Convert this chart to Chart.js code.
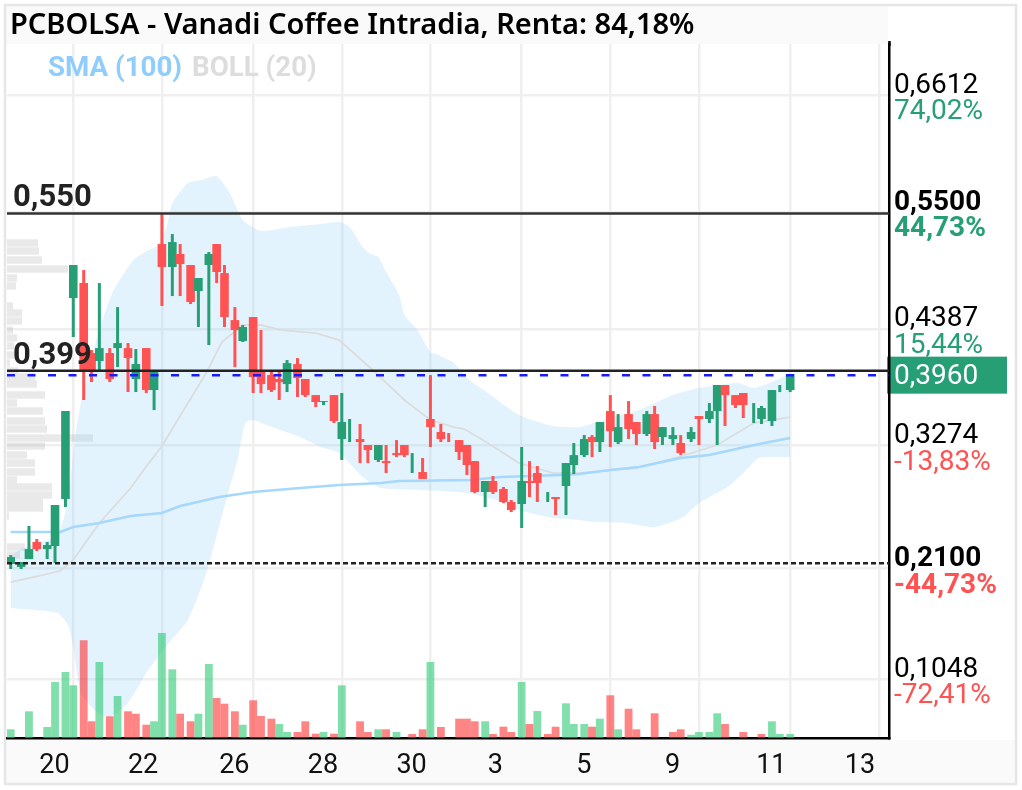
<!DOCTYPE html>
<html lang="es">
<head>
<meta charset="utf-8">
<title>PCBOLSA - Vanadi Coffee Intradia</title>
<script src="https://cdn.jsdelivr.net/npm/chart.js@4"></script>
<style>
    html, body { margin: 0; padding: 0; background: #fff; }
    canvas { display: block; }
</style>
</head>
<body>
<canvas id="chart" width="1022" height="790"></canvas>
<script>
// ===== DATA =====
const titleText = 'PCBOLSA - Vanadi Coffee Intradia, Renta: 84,18%';

const xTickSlots = [24, 58, 93, 127, 161, 196, 230, 264, 299, 333];
const xTickLabels = ['20', '22', '26', '28', '30', '3', '5', '9', '11', '13'];

const priceTicks = [0.6612, 0.55, 0.4387, 0.3274, 0.21, 0.1048];
const priceLabels = ['0,6612', '0,5500', '0,4387', '0,3274', '0,2100', '0,1048'];
const pctLabels = ['74,02%', '44,73%', '15,44%', '-13,83%', '-44,73%', '-72,41%'];
const boldPrices = ['0,5500', '0,2100'];

const lastPrice = 0.3945;
const lastPriceLabel = '0,3960';
const resistanceHigh = 0.5487;
const resistanceHighLabel = '0,550';
const resistanceLow = 0.3987;
const resistanceLowLabel = '0,399';
const supportLevel = 0.2151;

const candleSlots = [0, 4, 7, 10, 14, 17, 21, 24, 28, 31, 34, 38, 41, 45, 48, 52, 55, 58, 62, 65, 69, 72,
    76, 79, 82, 86, 89, 93, 96, 100, 103, 106, 110, 113, 117, 120, 124, 127, 130, 134, 137, 141, 144,
    148, 151, 154, 158, 161, 165, 168, 172, 175, 178, 182, 185, 189, 192, 196, 199, 202, 206, 209, 213,
    216, 220, 223, 226, 230, 233, 237, 240, 244, 247, 250, 254, 257, 261, 264, 268, 271, 274, 278, 281,
    285, 288, 292, 295, 299];
const candleOpen = [0.2145, 0.2116, 0.2192, 0.2354, 0.2287, 0.2316, 0.2764, 0.4680, 0.4823, 0.4156, 0.4080,
    0.4156, 0.4203, 0.4203, 0.3908, 0.4203, 0.3803, 0.5195, 0.4976, 0.5100, 0.4995, 0.4747, 0.4995, 0.5195,
    0.4918, 0.4470, 0.4270, 0.4499, 0.3994, 0.3946, 0.3908, 0.3860, 0.4051, 0.3908, 0.3755, 0.3689, 0.3755,
    0.3336, 0.3425, 0.3336, 0.3279, 0.3136, 0.3126, 0.3202, 0.3279, 0.3110, 0.3022, 0.3527, 0.3403, 0.3350,
    0.3326, 0.3279, 0.3126, 0.2831, 0.2936, 0.2860, 0.2736, 0.2717, 0.2936, 0.3012, 0.2782, 0.2783, 0.2888,
    0.3088, 0.3183, 0.3355, 0.3307, 0.3603, 0.3307, 0.3574, 0.3498, 0.3384, 0.3574, 0.3355, 0.3336, 0.3298,
    0.3336, 0.3555, 0.3527, 0.3603, 0.3851, 0.3755, 0.3775, 0.3582, 0.3527, 0.3508, 0.3818, 0.3803];
const candleClose = [0.2211, 0.2164, 0.2287, 0.2287, 0.2326, 0.2707, 0.3603, 0.4995, 0.3994, 0.3994, 0.4203,
    0.3908, 0.4251, 0.4108, 0.4051, 0.3803, 0.3975, 0.4976, 0.5214, 0.5004, 0.4642, 0.4871, 0.5100, 0.4928,
    0.4499, 0.4375, 0.4404, 0.3927, 0.3860, 0.3803, 0.3879, 0.4060, 0.3917, 0.3755, 0.3689, 0.3698, 0.3508,
    0.3498, 0.3425, 0.3307, 0.3231, 0.3279, 0.3107, 0.3183, 0.3183, 0.3110, 0.2955, 0.3450, 0.3336, 0.3349,
    0.3212, 0.3088, 0.2831, 0.2936, 0.2831, 0.2736, 0.2659, 0.2936, 0.2917, 0.2917, 0.2782, 0.2764, 0.3107,
    0.3183, 0.3336, 0.3307, 0.3498, 0.3412, 0.3450, 0.3431, 0.3384, 0.3574, 0.3307, 0.3450, 0.3374, 0.3202,
    0.3403, 0.3527, 0.3603, 0.3851, 0.3755, 0.3660, 0.3660, 0.3582, 0.3632, 0.3803, 0.3818, 0.3956];
const candleHigh = [0.2230, 0.2164, 0.2507, 0.2383, 0.2354, 0.2707, 0.3603, 0.4995, 0.4947, 0.4184, 0.4823,
    0.4203, 0.4594, 0.4251, 0.4194, 0.4203, 0.3975, 0.5491, 0.5290, 0.5195, 0.4995, 0.4871, 0.5119, 0.5195,
    0.4995, 0.4594, 0.4423, 0.4499, 0.4375, 0.3975, 0.3975, 0.4089, 0.4108, 0.3908, 0.3755, 0.3698, 0.3755,
    0.3775, 0.3527, 0.3479, 0.3279, 0.3279, 0.3279, 0.3326, 0.3279, 0.3202, 0.3155, 0.3946, 0.3479, 0.3393,
    0.3326, 0.3279, 0.3126, 0.2936, 0.2983, 0.2879, 0.2755, 0.3260, 0.3126, 0.3079, 0.2831, 0.2783, 0.3107,
    0.3298, 0.3374, 0.3374, 0.3498, 0.3755, 0.3574, 0.3698, 0.3498, 0.3603, 0.3651, 0.3450, 0.3450, 0.3374,
    0.3450, 0.3555, 0.3679, 0.3851, 0.3851, 0.3755, 0.3775, 0.3679, 0.3651, 0.3803, 0.3851, 0.3956];
const candleLow = [0.2097, 0.2097, 0.2192, 0.2268, 0.2192, 0.2154, 0.2688, 0.4309, 0.3708, 0.3879, 0.3994,
    0.3879, 0.4022, 0.3784, 0.3784, 0.3775, 0.3612, 0.4604, 0.4699, 0.4699, 0.4623, 0.4404, 0.4232, 0.4823,
    0.4404, 0.4022, 0.4261, 0.3775, 0.3775, 0.3784, 0.3708, 0.3784, 0.3737, 0.3737, 0.3641, 0.3660, 0.3489,
    0.3136, 0.3307, 0.3107, 0.3107, 0.3117, 0.3012, 0.3164, 0.3164, 0.3012, 0.2955, 0.3260, 0.3307, 0.3307,
    0.3136, 0.2993, 0.2821, 0.2688, 0.2812, 0.2726, 0.2640, 0.2488, 0.2783, 0.2736, 0.2736, 0.2612, 0.2612,
    0.3002, 0.3164, 0.3164, 0.3212, 0.3260, 0.3288, 0.3336, 0.3279, 0.3365, 0.3241, 0.3279, 0.3279, 0.3183,
    0.3307, 0.3279, 0.3489, 0.3279, 0.3460, 0.3632, 0.3536, 0.3489, 0.3479, 0.3460, 0.3784, 0.3784];

const volumeValues = [8.7, 0, 26.7, 0, 11, 56, 66, 52.7, 97.7, 16.7, 76, 21.7, 42, 26.7, 24.3, 13.3, 16.7, 105,
    68.7, 24.3, 16.7, 24.3, 74, 40, 34.3, 26.7, 13.3, 37.7, 22, 19.3, 14, 6, 6, 16.7, 4.3, 6, 4.3,
    52.7, 0, 16.7, 6, 8.7, 8.7, 6, 0, 4, 8.7, 76, 11, 0, 19.3, 19.3, 16.7, 16.7, 4, 11.3, 6, 56, 14, 27, 4,
    11.3, 34.7, 14, 14, 11.3, 19.3, 42.7, 8.7, 29.3, 8.7, 0, 24.7, 0, 6, 8.7, 3.3, 6, 6, 24.7, 14, 0, 6, 0,
    4, 16.7, 4, 4];
const volumeSide = ['u', 'u', 'u', 'u', 'u', 'u', 'u', 'u', 'd', 'd', 'u', 'd', 'u', 'd', 'd',
    'd', 'u', 'u', 'u', 'd', 'd', 'u', 'u', 'd', 'd', 'd', 'u', 'd', 'd', 'd', 'u', 'u', 'd', 'd', 'd', 'u', 'd',
    'u', 'u', 'd', 'd', 'u', 'd', 'u', 'u', 'd', 'd', 'u', 'd', 'd', 'd', 'd', 'd', 'u', 'd', 'd', 'd', 'u', 'd',
    'u', 'd', 'd', 'u', 'u', 'u', 'd', 'u', 'd', 'u', 'd', 'd', 'u', 'd', 'u', 'd', 'd', 'u', 'u', 'u', 'u', 'd',
    'u', 'd', 'u', 'd', 'u', 'u', 'u'];

const upperSlots = [0, 4, 7, 13, 18, 21, 23, 25, 27, 30, 34, 39, 47, 53, 57, 60, 62, 68, 73, 79, 84, 89, 96,
    107, 119, 126, 130, 135, 138, 141, 144, 149, 151, 156, 161, 164, 170, 176, 183, 195, 208, 218, 230, 241,
    254, 264, 279, 285, 292, 299];
const upperBand = [0.2221, 0.2287, 0.2316, 0.2364, 0.2421, 0.2640, 0.2964, 0.3403, 0.3689, 0.4022, 0.4375,
    0.4728, 0.5042, 0.5138, 0.5186, 0.5376, 0.5586, 0.5776, 0.5805, 0.5843, 0.5681, 0.5424, 0.5319, 0.5357,
    0.5386, 0.5405, 0.5357, 0.5166, 0.5100, 0.5071, 0.4928, 0.4709, 0.4518, 0.4375, 0.4165, 0.4137, 0.4060,
    0.3898, 0.3775, 0.3565, 0.3460, 0.3450, 0.3536, 0.3612, 0.3755, 0.3822, 0.3870, 0.3822, 0.3879, 0.3965];
const lowerSlots = [0, 9, 18, 22, 24, 27, 33, 38, 45, 52, 60, 68, 75, 83, 87, 90, 93, 98, 111, 119, 126, 135,
    142, 157, 175, 186, 195, 208, 218, 223, 236, 247, 258, 264, 275, 281, 287, 299];
const lowerBand = [0.1725, 0.1706, 0.1677, 0.1563, 0.1353, 0.0915, 0.0733, 0.0686, 0.0819, 0.1105, 0.1372,
    0.1611, 0.2059, 0.2783, 0.3136, 0.3489, 0.3517, 0.3470, 0.3355, 0.3260, 0.3202, 0.2974, 0.2869, 0.2850,
    0.2821, 0.2755, 0.2659, 0.2583, 0.2564, 0.2545, 0.2535, 0.2497, 0.2593, 0.2726, 0.2879, 0.3012, 0.3155, 0.3164];
const middleSlots = [0, 7, 19, 24, 34, 46, 51, 58, 68, 75, 81, 89, 96, 104, 117, 126, 138, 151, 161, 170, 174,
    183, 195, 208, 218, 240, 256, 271, 285, 299];
const middleBand = [0.1973, 0.2011, 0.2078, 0.2183, 0.2535, 0.2869, 0.3041, 0.3269, 0.3679, 0.3965, 0.4261,
    0.4423, 0.4423, 0.4375, 0.4346, 0.4280, 0.4013, 0.3708, 0.3517, 0.3450, 0.3431, 0.3298, 0.3107, 0.3012,
    0.3012, 0.3060, 0.3164, 0.3279, 0.3489, 0.3546];
const smaSlots = [0, 19, 24, 34, 46, 58, 65, 80, 93, 111, 126, 142, 149, 176, 188, 211, 218, 230, 241, 257,
    268, 280, 289, 299];
const smaValues = [0.2450, 0.2450, 0.2497, 0.2535, 0.2602, 0.2631, 0.2698, 0.2783, 0.2831, 0.2869, 0.2897,
    0.2917, 0.2936, 0.2945, 0.2974, 0.2993, 0.3002, 0.3041, 0.3069, 0.3155, 0.3183, 0.3250, 0.3298, 0.3346];

const profilePrices = [0.5204, 0.5128, 0.5042, 0.4957, 0.4871, 0.4795, 0.4604, 0.4537, 0.4461, 0.4375, 0.4299,
    0.4223, 0.4137, 0.4060, 0.3984, 0.3927, 0.3860, 0.3755, 0.3679, 0.3603, 0.3508, 0.3431, 0.3345, 0.3269,
    0.3183, 0.3107, 0.3022, 0.2945, 0.2879, 0.2803, 0.2736, 0.2678, 0.2602, 0.2306, 0.2230];
const profileVolumes = [31, 32, 35, 61, 10, 9, 6, 15, 15, 6, 10, 7, 8, 3, 11, 28, 30, 38, 10, 36, 38, 40, 86,
    38, 20, 28, 28, 10, 45, 45, 36, 36, 2, 18, 13];

// ===== STYLE =====
const GREEN = '#279f75';
const RED = '#ff5252';
const FONT = 'Roboto, sans-serif';
const xMin = -1.42;
const xMax = 336.9;

// ===== PLUGIN: testi e sfondi =====
const decorPlugin = {
    id: 'decor',
    beforeDraw(chart) {
        const c = chart.ctx;
        const y = chart.scales.y;
        c.save();
        c.fillStyle = '#fafafa';
        c.fillRect(6, 6, 882, 38);
        c.fillRect(6, 740, 1010, 44);
        c.strokeStyle = '#e6e6e6';
        c.lineWidth = 2.5;
        c.strokeRect(5, 5, 1011, 779);

        c.fillStyle = '#000';
        c.font = '600 29px "Noto Sans"';
        c.textBaseline = 'middle';
        c.fillText(titleText, 10, 26);

        // prolungamento asse sopra il grafico
        c.fillRect(888.2, 41, 2.5, 5);

        // etichetta ultimo prezzo
        const py = y.getPixelForValue(lastPrice);
        c.fillStyle = GREEN;
        c.fillRect(887, py - 18.5, 120, 37);
        c.fillStyle = '#fff';
        c.font = '28px ' + FONT;
        c.fillText(lastPriceLabel, 894, py + 2);
        c.restore();
    },
    afterDraw(chart) {
        const c = chart.ctx;
        const y = chart.scales.y;
        c.save();
        c.textBaseline = 'middle';

        // percentuali sotto i prezzi
        priceTicks.forEach((t, i) => {
            c.fillStyle = pctLabels[i].startsWith('-') ? RED : GREEN;
            c.font = (boldPrices.includes(priceLabels[i]) ? 'bold ' : '') + '28px ' + FONT;
            c.fillText(pctLabels[i], 894, y.getPixelForValue(t) + 17);
        });

        // legenda
        c.font = 'bold 27.7px ' + FONT;
        c.fillStyle = '#90cdfb';
        c.fillText('SMA (100)', 48, 69);
        c.fillStyle = '#dddddd';
        c.fillText('BOLL (20)', 192, 69);

        // livelli
        c.fillStyle = '#222';
        c.font = 'bold 31px ' + FONT;
        c.textBaseline = 'alphabetic';
        c.fillText(resistanceHighLabel, 13, y.getPixelForValue(resistanceHigh) - 7);
        c.fillText(resistanceLowLabel, 13, y.getPixelForValue(resistanceLow) - 7);
        c.restore();
    }
};

// ===== DATASETS =====
const toPoints = (slots, values) => slots.map((s, i) => ({ x: s, y: values[i] }));
const levelLine = (value, color, dash, order) => ({
    type: 'line',
    data: [{ x: xMin, y: value }, { x: xMax, y: value }],
    borderColor: color,
    borderWidth: 2.5,
    borderDash: dash,
    pointRadius: 0,
    order: order
});
const candleColors = candleOpen.map((o, i) => (candleClose[i] >= o ? GREEN : RED));

// profilo volumi: segmenti orizzontali separati da buchi
const profilePoints = profilePrices.flatMap((p, i) => [
    { x: 0, y: p }, { x: profileVolumes[i], y: p }, { x: NaN, y: NaN }
]);

new Chart(document.getElementById('chart'), {
    type: 'bar',
    data: {
        datasets: [
            {
                type: 'line',
                data: profilePoints,
                xAxisID: 'xProfile',
                borderColor: 'rgba(110, 110, 110, 0.15)',
                borderWidth: 7.5,
                borderCapStyle: 'butt',
                pointRadius: 0,
                spanGaps: false,
                order: 9
            },
            {
                type: 'line',
                data: toPoints(upperSlots, upperBand),
                borderWidth: 0,
                pointRadius: 0,
                tension: 0.2,
                fill: '+1',
                backgroundColor: 'rgba(143, 208, 250, 0.25)',
                order: 8
            },
            {
                type: 'line',
                data: toPoints(lowerSlots, lowerBand),
                borderWidth: 0,
                pointRadius: 0,
                tension: 0.2,
                order: 8
            },
            {
                type: 'line',
                data: toPoints(middleSlots, middleBand),
                borderColor: '#dcdcdc',
                borderWidth: 1.8,
                pointRadius: 0,
                order: 7
            },
            {
                type: 'line',
                data: toPoints(smaSlots, smaValues),
                borderColor: '#a6d8fb',
                borderWidth: 2.5,
                pointRadius: 0,
                order: 6
            },
            {
                data: candleSlots.map((s, i) => ({ x: s, y: volumeValues[i] })),
                yAxisID: 'yVolume',
                grouped: false,
                barThickness: 7.8,
                inflateAmount: 0,
                backgroundColor: volumeSide.map(s => (s === 'u' ? 'rgba(43, 201, 113, 0.6)' : 'rgba(255, 43, 43, 0.58)')),
                order: 5
            },
            {
                data: candleSlots.map((s, i) => ({ x: s, y: [candleLow[i], candleHigh[i]] })),
                grouped: false,
                barThickness: 3,
                inflateAmount: 0,
                backgroundColor: candleColors,
                order: 4
            },
            {
                data: candleSlots.map((s, i) => ({ x: s, y: [candleOpen[i], candleClose[i]] })),
                grouped: false,
                barThickness: 8.6,
                inflateAmount: 0,
                backgroundColor: candleColors,
                order: 3
            },
            levelLine(resistanceHigh, '#333', [], 2),
            levelLine(resistanceLow, '#222', [], 2),
            levelLine(supportLevel, '#222', [5, 3], 2),
            levelLine(lastPrice, '#1a1aff', [8, 12.5], 1)
        ]
    },
    options: {
        responsive: false,
        animation: false,
        layout: { padding: { left: 7, top: 44, right: 0, bottom: 0 } },
        plugins: {
            legend: { display: false },
            title: { display: false },
            tooltip: { enabled: false }
        },
        scales: {
            x: {
                type: 'linear',
                min: xMin,
                max: xMax,
                offset: false,
                afterFit: s => { s.height = 52; },
                afterBuildTicks: s => { s.ticks = xTickSlots.map(v => ({ value: v })); },
                border: { display: true, color: '#000', width: 2.5 },
                grid: { color: '#efefef', lineWidth: 2.5, offset: false, drawTicks: false },
                ticks: {
                    autoSkip: false,
                    maxRotation: 0,
                    align: 'start',
                    labelOffset: -34,
                    padding: 12,
                    color: '#111',
                    font: { family: FONT, size: 27 },
                    callback: v => xTickLabels[xTickSlots.indexOf(v)]
                }
            },
            y: {
                position: 'right',
                min: 0.0486,
                max: 0.7102,
                afterFit: s => { s.width = 133; },
                afterBuildTicks: s => { s.ticks = priceTicks.map(v => ({ value: v })); },
                border: { display: true, color: '#000', width: 2.5 },
                grid: { color: '#efefef', lineWidth: 2.5, drawTicks: false },
                ticks: {
                    autoSkip: false,
                    padding: 5,
                    labelOffset: 4.5,
                    color: '#000',
                    font: ctx => ({
                        family: FONT,
                        size: 28,
                        lineHeight: 1,
                        weight: ctx.tick && boldPrices.includes(priceLabels[priceTicks.indexOf(ctx.tick.value)]) ? 'bold' : 'normal'
                    }),
                    callback: v => [priceLabels[priceTicks.indexOf(v)], '']
                }
            },
            yVolume: { display: false, min: 0, max: 694 },
            xProfile: { display: false, type: 'linear', min: 0, max: 882, offset: false }
        }
    },
    plugins: [decorPlugin]
});
</script>
</body>
</html>
